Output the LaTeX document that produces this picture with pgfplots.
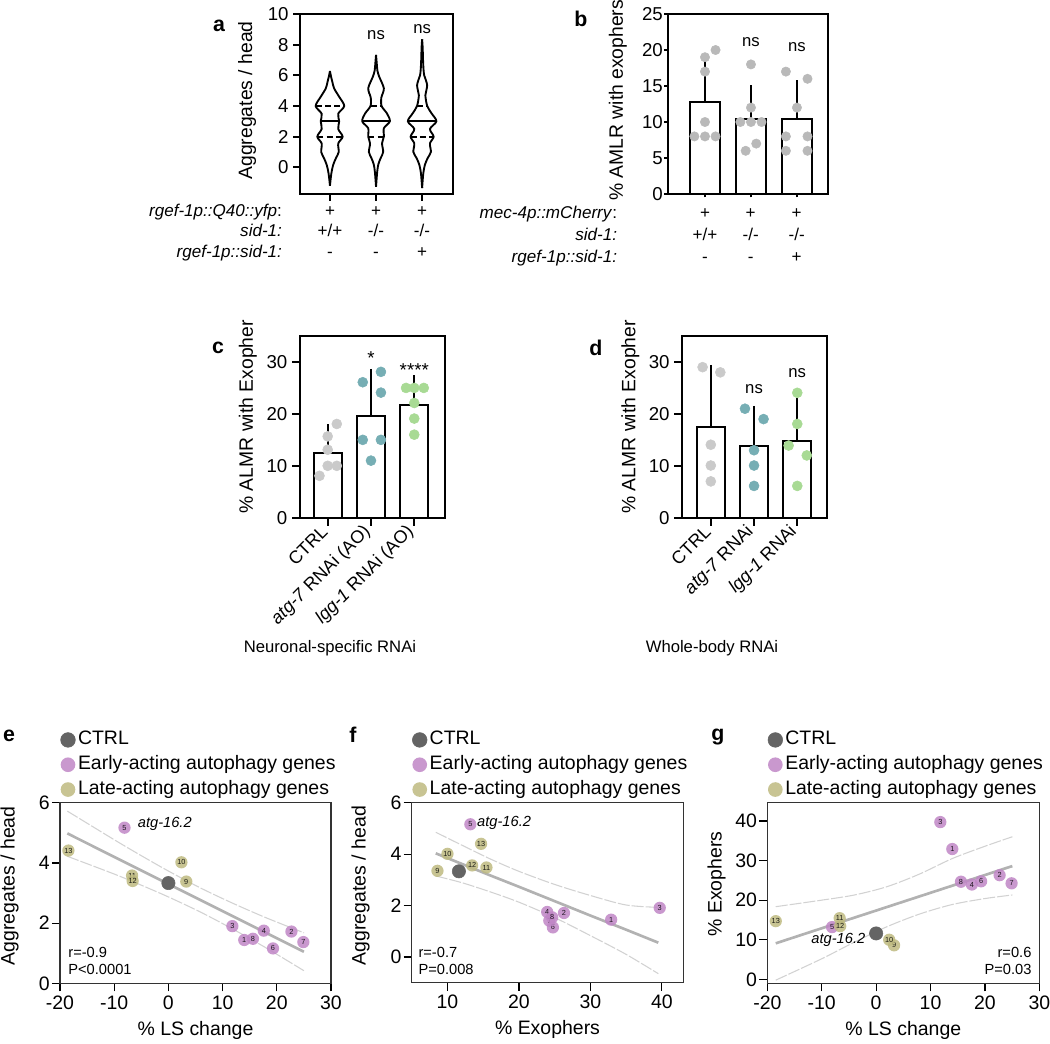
\documentclass[border=0pt]{standalone}
\usepackage{fontspec}
\setmainfont{Liberation Sans}
\usepackage{pgfplots}
\pgfplotsset{compat=1.18}
\usepackage{pgfplotstable}

\definecolor{ctrlc}{RGB}{100,100,100}
\definecolor{earlyc}{RGB}{192,134,198}
\definecolor{latec}{RGB}{190,186,128}
\definecolor{bgray}{RGB}{185,185,185}
\definecolor{cgray}{RGB}{202,202,202}
\definecolor{cteal}{RGB}{118,174,180}
\definecolor{cgreen}{RGB}{168,218,148}

\newcommand{\tkf}{\fontsize{14}{16}\selectfont}
\newcommand{\lbf}{\fontsize{14.5}{17}\selectfont}
\newcommand{\scf}{\fontsize{14.6}{17}\selectfont}
\newcommand{\gnf}{\fontsize{12.8}{15}\selectfont}

% violin profiles: y, half width
\pgfplotstableread{
y w
6.28 0
5.9 0.025
5.6 0.05
5.15 0.09
4.6 0.2
4.0 0.31
3.5 0.18
3.0 0.20
2.5 0.18
2.0 0.275
1.56 0.18
1.0 0.19
0.6 0.13
0.16 0.07
-0.4 0.03
-1.2 0
}\vA
\pgfplotstableread{
y w
7.33 0
6.8 0.015
6.3 0.03
5.9 0.07
5.5 0.13
5.15 0.17
4.85 0.15
4.55 0.115
4.0 0.12
3.5 0.24
3.0 0.30
2.55 0.17
2.0 0.17
1.56 0.13
1.0 0.155
0.6 0.10
0.2 0.05
-0.3 0.025
-1.27 0
}\vB
\pgfplotstableread{
y w
8.35 0
7.8 0.012
7.0 0.02
6.4 0.03
6.0 0.045
5.7 0.08
5.35 0.11
5.0 0.09
4.7 0.07
4.0 0.11
3.5 0.21
3.0 0.31
2.5 0.17
2.0 0.25
1.56 0.17
1.0 0.19
0.6 0.12
0.16 0.06
-0.4 0.025
-1.35 0
}\vC

% screen genes
\pgfplotstableread{
id ls exo agge aggf
1 14.0 32.9 1.44 1.45
2 22.7 26.3 1.72 1.71
3 11.8 39.7 1.90 1.91
4 17.6 23.95 1.75 1.75
5 -8.1 13.2 5.17 5.16
6 19.3 24.75 1.16 1.15
7 24.9 24.25 1.37 1.41
8 15.6 24.65 1.48 1.54
}\early
\pgfplotstableread{
id ls exo agge aggf
9 3.3 8.6 3.38 3.35
10 2.4 10.0 4.02 4.01
11 -6.7 15.45 3.58 3.48
12 -6.6 13.45 3.40 3.56
13 -18.45 14.7 4.41 4.40
}\late
\pgfplotstableread{
ls exo agg
0 11.6 3.33
}\ctrl

% fits and 95% bands
\pgfplotstableread{
x fit up lo
-18.65 4.98 5.72 4.22
-10 4.20 4.77 3.63
-5 3.75 4.24 3.26
0 3.30 3.73 2.87
6 2.76 3.16 2.36
12 2.22 2.65 1.79
18 1.68 2.18 1.18
25 1.05 1.68 0.42
}\cie
\pgfplotstableread{
x fit up lo
8.36 4.03 4.85 3.15
12 3.62 4.35 2.89
16 3.17 3.81 2.53
20 2.73 3.33 2.13
25 2.17 2.82 1.53
30 1.61 2.39 0.83
35 1.06 2.02 0.10
39.5 0.556 1.93 -0.65
}\cif
\pgfplotstableread{
x fit up lo
-18.46 9.1 18.35 -0.2
-10 12.9 20.0 5.2
-4 15.58 21.3 9.4
2 18.27 23.4 13.3
8 20.96 26.6 16.5
14 23.65 30.5 18.9
20 26.34 33.6 20.4
25.04 28.6 36.0 21.3
}\cig

\pgfplotsset{
  bars/.style={scale only axis, anchor=south west, clip=false,
    axis line style={line width=1.5pt},
    every tick/.style={black, line width=1.5pt},
    tick align=outside, major tick length=5pt,
    xtick pos=left, ytick pos=left,
    tick label style={font=\tkf}, label style={font=\lbf},
    /pgf/number format/assume math mode=true},
  ylab/.style 2 args={every axis y label/.append style={at={(axis description cs:#1,#2)}, anchor=center}},
  sc/.style={scale only axis, anchor=south west, clip=false,
    axis line style={line width=0.9pt, black!80},
    every tick/.style={black, line width=0.9pt},
    tick align=outside, major tick length=6pt,
    xtick pos=left, ytick pos=left,
    tick label style={font=\scf}, yticklabel style={inner sep=1.5pt},
    label style={font=\scf},
    /pgf/number format/assume math mode=true,
    every axis x label/.append style={at={(axis description cs:0.5,-0.262)}, anchor=center},
    legend style={at={(0,1)}, anchor=south west, xshift=0.5pt, yshift=3pt,
      draw=none, fill=none, inner sep=0pt, outer sep=0pt, font=\scf,
      row sep=4.9pt, column sep=2pt,
      nodes={inner sep=0pt, text height=10.6pt, text depth=3.1pt}},
    legend cell align=left},
  vio/.style={black, line width=1.4pt, smooth, tension=0.5},
  qrt/.style={black, line width=1.3pt, dash pattern=on 4.5pt off 2.5pt},
  med/.style={black, line width=1.3pt},
  bar/.style={ybar, bar width=0.64, fill=white, draw=black, line width=1.5pt,
    error bars/.cd, y dir=plus, y explicit,
    error bar style={line width=1.5pt, black},
    error mark options={line width=1.5pt, mark size=6pt, black}},
  dot/.style={only marks, mark=*, mark size=3.75pt, mark options={fill=#1, draw=#1}},
  gene/.style={only marks, mark=*, mark size=4.6pt,
    mark options={fill=#1, draw=#1, fill opacity=0.85, draw opacity=0},
    nodes near coords, point meta=explicit symbolic,
    nodes near coords style={font=\fontsize{5.5}{6}\selectfont, anchor=center, inner sep=0pt, text=black},
    legend image code/.code={\draw[##1, mark size=5.5pt] plot coordinates {(0pt,0pt)};}},
  ctrlp/.style={only marks, mark=*, mark size=5pt,
    mark options={fill=ctrlc, draw=ctrlc},
    legend image code/.code={\draw[##1, mark size=5.5pt] plot coordinates {(0pt,0pt)};}},
  fitl/.style={forget plot, gray!60, line width=2pt},
  band/.style={forget plot, gray!35, line width=0.8pt, smooth, dash pattern=on 9pt off 1.5pt},
}

\begin{document}
\begin{tikzpicture}
\useasboundingbox (0,0) rectangle (787.5pt,-782.25pt);

% ---------------- a
\begin{axis}[bars, ylab={-0.346}{0.52}, at={(225pt,-145.5pt)}, width=114.75pt, height=135pt,
  xmin=-0.65, xmax=2.67, ymin=-1.74, ymax=10,
  xtick={0,1,2}, xticklabels={,,}, ytick={0,2,...,10},
  ylabel={Aggregates / head}]
\addplot[vio] table[x expr=\thisrow{w}, y=y] {\vA};
\addplot[vio] table[x expr=-\thisrow{w}, y=y] {\vA};
\addplot[vio] table[x expr=1+\thisrow{w}, y=y] {\vB};
\addplot[vio] table[x expr=1-\thisrow{w}, y=y] {\vB};
\addplot[vio] table[x expr=2+\thisrow{w}, y=y] {\vC};
\addplot[vio] table[x expr=2-\thisrow{w}, y=y] {\vC};
\addplot[qrt] coordinates {(-0.31,4) (0.31,4)};
\addplot[med] coordinates {(-0.20,3) (0.20,3)};
\addplot[qrt] coordinates {(-0.275,2) (0.275,2)};
\addplot[qrt] coordinates {(0.88,4) (1.12,4)};
\addplot[med] coordinates {(0.70,3) (1.30,3)};
\addplot[qrt] coordinates {(0.83,2) (1.17,2)};
\addplot[qrt] coordinates {(1.89,4) (2.11,4)};
\addplot[med] coordinates {(1.69,3) (2.31,3)};
\addplot[qrt] coordinates {(1.75,2) (2.25,2)};
\node[font=\fontsize{12.5}{14}\selectfont] at (axis cs:1,8.63) {ns};
\node[font=\fontsize{12.5}{14}\selectfont] at (axis cs:2,9.02) {ns};
\end{axis}

% ---------------- b
\begin{axis}[bars, ylab={-0.311}{0.52}, at={(500.8pt,-145.5pt)}, width=120pt, height=135pt,
  major tick length=2.5pt, yticklabel style={inner sep=1pt},
  xmin=-0.81, xmax=2.67, ymin=0, ymax=25,
  xtick={0,1,2}, xticklabels={,,}, ytick={0,5,...,25},
  ylabel={\% AMLR with exophers}]
\addplot[bar] coordinates {(0,12.8) +- (0,5.6) (1,10.4) +- (0,3.6) (2,10.4) +- (0,4.3)};
\addplot[dot=bgray, mark size=3.5pt]
  coordinates {(0.23,20) (0,19) (0,17) (0,10) (-0.23,8) (0,8) (0.23,8)
  (1,18) (1,12) (0.77,10) (1,10) (1.23,10) (1.115,7) (0.885,6)
  (1.76,17) (2.23,16) (2,12) (1.76,8) (2.23,8) (1.76,6) (2.23,6)};
\node[font=\fontsize{12.5}{14}\selectfont] at (axis cs:1,21.15) {ns};
\node[font=\fontsize{12.5}{14}\selectfont] at (axis cs:2,20.46) {ns};
\end{axis}

% ---------------- c
\begin{axis}[bars, ylab={-0.359}{0.555}, at={(225pt,-388.3pt)}, width=108.75pt, height=136.3pt,
  major tick length=6pt,
  xmin=-0.64, xmax=2.71, ymin=0, ymax=35,
  xtick={0,1,2}, xticklabels={CTRL,\textit{atg-7} RNAi (AO),\textit{lgg-1} RNAi (AO)},
  xticklabel style={rotate=45, anchor=east, font=\fontsize{13.5}{15}\selectfont},
  ytick={0,10,20,30}, ylabel={\% ALMR with Exopher}]
\addplot[bar] coordinates {(0,12.45) +- (0,4.05) (1,19.67) +- (0,7.48) (2,21.8) +- (0,4.1)};
\addplot[dot=cgray] coordinates {(0.21,18.06) (0,15.67) (0,13.1) (0,10.0) (0.21,10.0) (-0.19,8.07)};
\addplot[dot=cteal] coordinates {(1.23,28.1) (0.81,26.1) (1.23,24.1) (0.81,15.0) (1.23,15.0) (1.0,11.0)};
\addplot[dot=cgreen] coordinates {(1.81,25.0) (2,25.0) (2.22,25.0) (2,22.1) (2,19.1) (2,16.0)};
\node[font=\fontsize{14}{16}\selectfont] at (axis cs:1,30.8) {*};
\node[font=\fontsize{14}{16}\selectfont] at (axis cs:2,28.5) {****};
\end{axis}

% ---------------- d
\begin{axis}[bars, ylab={-0.359}{0.555}, at={(511.7pt,-388.3pt)}, width=108.3pt, height=136.3pt,
  major tick length=6pt,
  xmin=-0.66, xmax=2.68, ymin=0, ymax=35,
  xtick={0,1,2}, xticklabels={CTRL,\textit{atg-7} RNAi,\textit{lgg-1} RNAi},
  xticklabel style={rotate=45, anchor=east, font=\fontsize{13.5}{15}\selectfont},
  ytick={0,10,20,30}, ylabel={\% ALMR with Exopher}]
\addplot[bar] coordinates {(0,17.5) +- (0,10.4) (1,13.8) +- (0,6.2) (2,14.7) +- (0,6.8)};
\addplot[dot=cgray] coordinates {(-0.19,29.0) (0.22,28.0) (0,14.06) (0,10.06) (0,7.0)};
\addplot[dot=cteal] coordinates {(0.79,21.0) (1.22,19.0) (1,13.0) (1,10.06) (1,6.13)};
\addplot[dot=cgreen] coordinates {(2,24.06) (2,18.06) (1.8,13.9) (2.22,12.0) (2,6.13)};
\node[font=\fontsize{12.5}{14}\selectfont] at (axis cs:1,24.8) {ns};
\node[font=\fontsize{12.5}{14}\selectfont] at (axis cs:2,27.9) {ns};
\end{axis}

% ---------------- e
\begin{axis}[sc, ylab={-0.186}{0.539}, at={(45pt,-737.5pt)}, width=203.25pt, height=135.5pt,
  xmin=-20, xmax=30, ymin=0, ymax=6,
  xtick={-20,-10,...,30}, ytick={0,2,4,6},
  xlabel={\% LS change}, ylabel={Aggregates / head}]
\addplot[band] table[x=x, y=up] {\cie};
\addplot[band] table[x=x, y=lo] {\cie};
\addplot[fitl] table[x=x, y=fit] {\cie};
\addplot[ctrlp] table[x=ls, y=agg] {\ctrl};
\addplot[gene=earlyc] table[x=ls, y=agge, meta=id] {\early};
\addplot[gene=latec] table[x=ls, y=agge, meta=id] {\late};
\legend{CTRL, Early-acting autophagy genes, Late-acting autophagy genes}
\node[anchor=west, font=\itshape\fontsize{11}{13}\selectfont] at (axis cs:-6.5,5.3) {atg-16.2};
\node[anchor=south west, align=left, inner sep=0pt, font=\fontsize{11}{12.75}\selectfont] at (rel axis cs:0.03,0.044) {r=-0.9\\P<0.0001};
\end{axis}

% ---------------- f
\begin{axis}[sc, ylab={-0.1885}{0.539}, at={(308.8pt,-737pt)}, width=203.7pt, height=135pt,
  xmin=5, xmax=43, ymin=-1, ymax=6,
  xtick={10,20,30,40}, ytick={0,2,4,6},
  xlabel={\% Exophers}, ylabel={Aggregates / head}]
\addplot[band] table[x=x, y=up] {\cif};
\addplot[band] table[x=x, y=lo] {\cif};
\addplot[fitl] table[x=x, y=fit] {\cif};
\addplot[ctrlp] table[x=exo, y=agg] {\ctrl};
\addplot[gene=earlyc] table[x=exo, y=aggf, meta=id] {\early};
\addplot[gene=latec] table[x=exo, y=aggf, meta=id] {\late};
\legend{CTRL, Early-acting autophagy genes, Late-acting autophagy genes}
\node[anchor=west, font=\itshape\fontsize{11}{13}\selectfont] at (axis cs:13.5,5.2) {atg-16.2};
\node[anchor=south west, align=left, inner sep=0pt, font=\fontsize{11}{12.75}\selectfont] at (rel axis cs:0.024,0.044) {r=-0.7\\P=0.008};
\end{axis}

% ---------------- g
\begin{axis}[sc, ylab={-0.187}{0.55}, at={(575.5pt,-737.5pt)}, width=204pt, height=135.5pt,
  xmin=-20, xmax=30, ymin=-1, ymax=44.6,
  xtick={-20,-10,...,30}, ytick={0,10,...,40},
  xlabel={\% LS change}, ylabel={\% Exophers}]
\addplot[band] table[x=x, y=up] {\cig};
\addplot[band] table[x=x, y=lo] {\cig};
\addplot[fitl] table[x=x, y=fit] {\cig};
\addplot[ctrlp] table[x=ls, y=exo] {\ctrl};
\addplot[gene=earlyc] table[x=ls, y=exo, meta=id] {\early};
\addplot[gene=latec] table[x=ls, y=exo, meta=id] {\late};
\legend{CTRL, Early-acting autophagy genes, Late-acting autophagy genes}
\node[anchor=west, font=\itshape\fontsize{11}{13}\selectfont] at (axis cs:-12.76,9.93) {atg-16.2};
\node[anchor=south east, align=right, inner sep=0pt, font=\fontsize{11}{12.75}\selectfont] at (rel axis cs:0.972,0.044) {r=0.6\\P=0.03};
\end{axis}

% genotype rows
\begin{scope}[font=\gnf]
\node[anchor=base east] at (215pt,-162.5pt) {\textit{rgef-1p::Q40::yfp}:};
\node[anchor=base east] at (215pt,-177.5pt) {\textit{sid-1:}};
\node[anchor=base east] at (215pt,-193pt) {\textit{rgef-1p::sid-1:}};
\node[anchor=base] at (247.5pt,-162.5pt) {+};
\node[anchor=base] at (282pt,-162.5pt) {+};
\node[anchor=base] at (316.5pt,-162.5pt) {+};
\node[anchor=base] at (247.5pt,-177.5pt) {+/+};
\node[anchor=base] at (282pt,-177.5pt) {-/-};
\node[anchor=base] at (316.5pt,-177.5pt) {-/-};
\node[anchor=base] at (247.5pt,-193pt) {-};
\node[anchor=base] at (282pt,-193pt) {-};
\node[anchor=base] at (316.5pt,-193pt) {+};
\node[anchor=base east] at (466.3pt,-163.75pt) {\textit{mec-4p::mCherry}:};
\node[anchor=base east] at (466.3pt,-180.5pt) {\textit{sid-1:}};
\node[anchor=base east] at (466.3pt,-196.75pt) {\textit{rgef-1p::sid-1:}};
\node[anchor=base] at (528.75pt,-163.75pt) {+};
\node[anchor=base] at (563pt,-163.75pt) {+};
\node[anchor=base] at (597.5pt,-163.75pt) {+};
\node[anchor=base] at (528.75pt,-180.5pt) {+/+};
\node[anchor=base] at (563pt,-180.5pt) {-/-};
\node[anchor=base] at (597.5pt,-180.5pt) {-/-};
\node[anchor=base] at (528.75pt,-196.75pt) {-};
\node[anchor=base] at (563pt,-196.75pt) {-};
\node[anchor=base] at (597.5pt,-196.75pt) {+};
\end{scope}

\node[font=\fontsize{12.5}{15}\selectfont] at (247.5pt,-486pt) {Neuronal-specific RNAi};
\node[font=\fontsize{12.5}{15}\selectfont] at (534pt,-486pt) {Whole-body RNAi};

% panel letters
\begin{scope}[font=\bfseries\fontsize{16}{18}\selectfont]
\node[anchor=base] at (164.25pt,-23.75pt) {a};
\node[anchor=base] at (435.75pt,-20pt) {b};
\node[anchor=base] at (163.5pt,-265pt) {c};
\node[anchor=base] at (447pt,-266.25pt) {d};
\node[anchor=base] at (6.75pt,-556.25pt) {e};
\node[anchor=base] at (264.75pt,-556.5pt) {f};
\node[anchor=base] at (538.5pt,-555pt) {g};
\end{scope}
\end{tikzpicture}
\end{document}
